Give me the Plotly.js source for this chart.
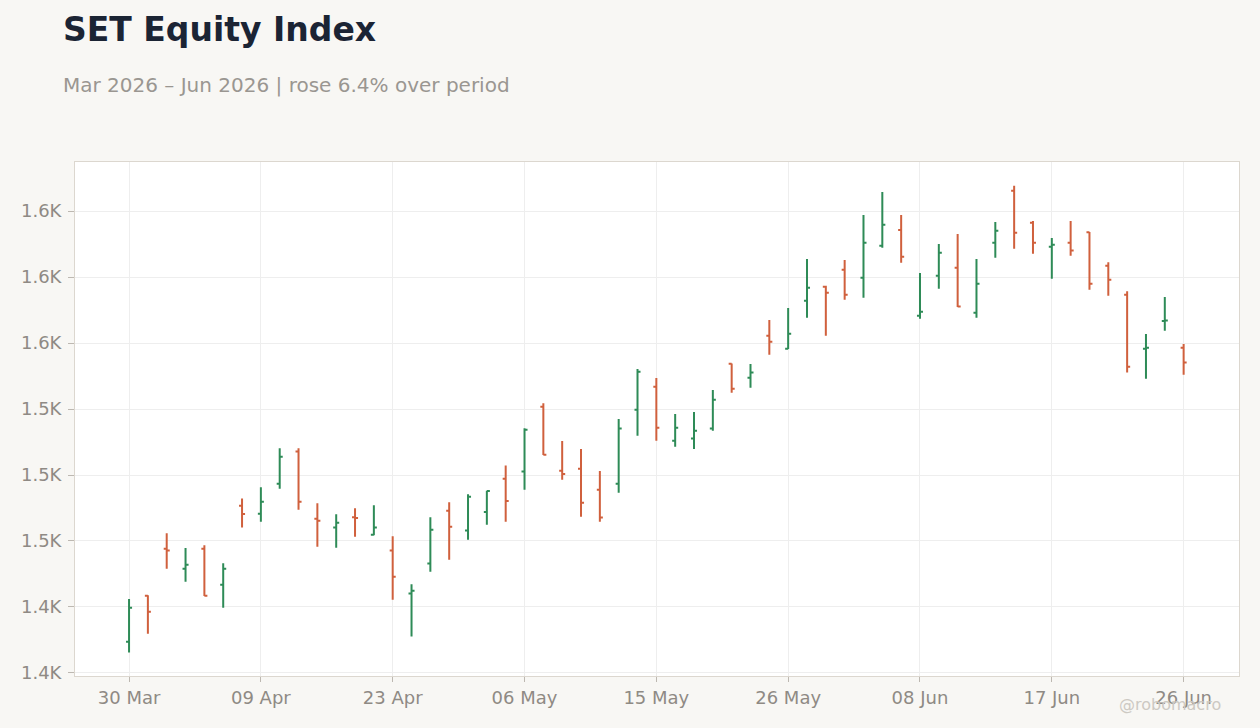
<!DOCTYPE html>
<html>
<head>
<meta charset="utf-8">
<script src="https://cdn.plot.ly/plotly-3.0.1.min.js"></script>
<style>
  html, body { margin: 0; padding: 0; background: #f8f7f4; }
  #chart { width: 1260px; height: 728px; }
</style>
</head>
<body>
<div id="chart"></div>
<script>
const dates = [
  "2026-03-30","2026-03-31","2026-04-01","2026-04-02","2026-04-03","2026-04-07","2026-04-08","2026-04-09",
  "2026-04-10","2026-04-16","2026-04-17","2026-04-20","2026-04-21","2026-04-22","2026-04-23",
  "2026-04-24","2026-04-27","2026-04-28","2026-04-29","2026-04-30","2026-05-05","2026-05-06",
  "2026-05-07","2026-05-08","2026-05-11","2026-05-12","2026-05-13","2026-05-14","2026-05-15",
  "2026-05-18","2026-05-19","2026-05-20","2026-05-21","2026-05-22","2026-05-25","2026-05-26",
  "2026-05-27","2026-05-28","2026-05-29","2026-06-02","2026-06-04","2026-06-05","2026-06-08",
  "2026-06-09","2026-06-10","2026-06-11","2026-06-12","2026-06-15","2026-06-16","2026-06-17",
  "2026-06-18","2026-06-19","2026-06-22","2026-06-23","2026-06-24","2026-06-25","2026-06-26"
];
const openVals = [
  1406.6,1431.0,1455.9,1445.3,1455.9,1436.8,1478.7,1474.5,1490.4,1507.4,
  1471.8,1467.1,1472.6,1463.3,1454.9,1432.1,1448.0,1476.1,1465.5,1475.4,
  1493.0,1496.8,1531.2,1497.3,1498.3,1487.2,1490.4,1529.6,1541.8,1513.2,
  1514.3,1519.6,1554.0,1546.6,1568.9,1562.0,1587.4,1594.9,1603.9,1599.6,
  1616.6,1624.9,1579.5,1600.7,1604.9,1581.1,1618.2,1645.8,1628.8,1616.1,
  1618.2,1623.7,1606.0,1590.6,1562.0,1576.7,1562.5
];
const highVals = [
  1429.2,1431.2,1464.1,1456.3,1457.7,1448.2,1482.6,1488.5,1509.2,1509.2,
  1480.0,1474.2,1477.3,1478.9,1462.5,1437.0,1472.6,1480.5,1484.8,1486.7,
  1500.1,1519.8,1533.0,1513.0,1508.8,1497.1,1524.7,1551.2,1546.4,1527.3,
  1528.4,1540.1,1554.2,1553.9,1577.2,1583.6,1609.5,1595.4,1609.0,1632.9,
  1645.1,1632.9,1602.1,1617.5,1622.8,1609.5,1629.2,1648.4,1629.7,1620.7,
  1629.7,1623.9,1607.8,1592.4,1569.8,1589.4,1564.5
];
const lowVals = [
  1400.8,1410.8,1445.3,1438.4,1430.8,1424.6,1467.1,1470.2,1487.7,1476.6,
  1457.0,1456.4,1462.3,1463.1,1428.9,1409.3,1443.7,1450.1,1460.7,1468.6,
  1470.2,1487.2,1505.6,1492.5,1472.9,1470.2,1485.6,1515.8,1513.2,1510.0,
  1508.8,1518.5,1538.6,1541.3,1558.8,1561.8,1578.4,1568.9,1588.0,1589.0,
  1615.5,1607.6,1577.9,1593.8,1584.1,1578.4,1610.2,1615.0,1612.4,1599.1,
  1611.3,1593.3,1590.1,1549.3,1546.1,1571.5,1548.2
];
const closeVals = [
  1424.6,1422.5,1454.9,1447.4,1431.0,1445.3,1474.3,1480.8,1504.7,1480.8,
  1470.8,1469.7,1472.2,1467.1,1441.1,1433.6,1466.0,1467.6,1483.5,1486.5,
  1481.2,1519.0,1505.8,1495.5,1480.3,1472.4,1519.6,1549.8,1520.1,1520.1,
  1518.5,1534.9,1540.8,1549.3,1565.7,1569.9,1594.3,1591.7,1590.6,1618.2,
  1627.7,1610.8,1581.6,1612.9,1584.3,1596.4,1624.6,1623.5,1618.2,1617.1,
  1614.0,1596.4,1598.6,1552.4,1562.5,1577.0,1554.6
];
const xTickVals = ["2026-03-30","2026-04-09","2026-04-23","2026-05-06","2026-05-15","2026-05-26","2026-06-08","2026-06-17","2026-06-26"];
const xTickText = ["30 Mar","09 Apr","23 Apr","06 May","15 May","26 May","08 Jun","17 Jun","26 Jun"];
const yTickVals = [1390,1425,1460,1495,1530,1565,1600,1635];
const yTickText = ["1.4K","1.4K","1.5K","1.5K","1.5K","1.6K","1.6K","1.6K"];

const FONT = "DejaVu Sans, sans-serif";

const trace = {
  type: "ohlc",
  x: dates,
  open: openVals,
  high: highVals,
  low: lowVals,
  close: closeVals,
  tickwidth: 0.16,
  increasing: { line: { color: "#2e8b57", width: 2 } },
  decreasing: { line: { color: "#d0603d", width: 2 } },
  showlegend: false,
  hoverinfo: "x+text"
};

const layout = {
  width: 1260,
  height: 728,
  paper_bgcolor: "#f8f7f4",
  plot_bgcolor: "#ffffff",
  margin: { l: 75, r: 21, t: 162, b: 52 },
  font: { family: FONT, color: "#8f8a84", size: 18 },
  title: {
    text: "<b>SET Equity Index</b>",
    font: { family: FONT, size: 33, color: "#1b2434" },
    xref: "container", yref: "container",
    x: 0.05, xanchor: "left",
    y: 1 - 29 / 728, yanchor: "middle"
  },
  annotations: [
    {
      text: "Mar 2026 \u2013 Jun 2026 | rose 6.4% over period",
      xref: "paper", yref: "paper",
      x: (61 - 75) / 1164, xanchor: "left",
      y: 1 + (162 - 85) / 514, yanchor: "middle",
      showarrow: false,
      font: { family: FONT, size: 20, color: "#9a9691" }
    },
    {
      text: "@robomacro",
      xref: "paper", yref: "paper",
      x: (1223 - 75) / 1164, xanchor: "right",
      y: -(704 - 676) / 514, yanchor: "middle",
      showarrow: false,
      font: { family: FONT, size: 16, color: "#cdc9c3" }
    }
  ],
  xaxis: {
    type: "category",
    range: [-2.87, 58.94],
    tickmode: "array",
    tickvals: xTickVals,
    ticktext: xTickText,
    ticks: "outside",
    ticklen: 5,
    tickcolor: "#bdb8b1",
    showgrid: true,
    gridcolor: "#eeeeee",
    showline: true,
    linecolor: "#dcd7cf",
    mirror: true,
    zeroline: false,
    rangeslider: { visible: false },
    tickfont: { family: FONT, size: 18, color: "#8f8a84" }
  },
  yaxis: {
    range: [1388.4, 1661.0],
    tickmode: "array",
    tickvals: yTickVals,
    ticktext: yTickText,
    ticks: "outside",
    ticklen: 6,
    ticklabelstandoff: 3,
    tickcolor: "#bdb8b1",
    showgrid: true,
    gridcolor: "#eeeeee",
    showline: true,
    linecolor: "#dcd7cf",
    mirror: true,
    zeroline: false,
    tickfont: { family: FONT, size: 18, color: "#8f8a84" }
  }
};

Plotly.newPlot("chart", [trace], layout, { displayModeBar: false, responsive: false });
</script>
</body>
</html>
